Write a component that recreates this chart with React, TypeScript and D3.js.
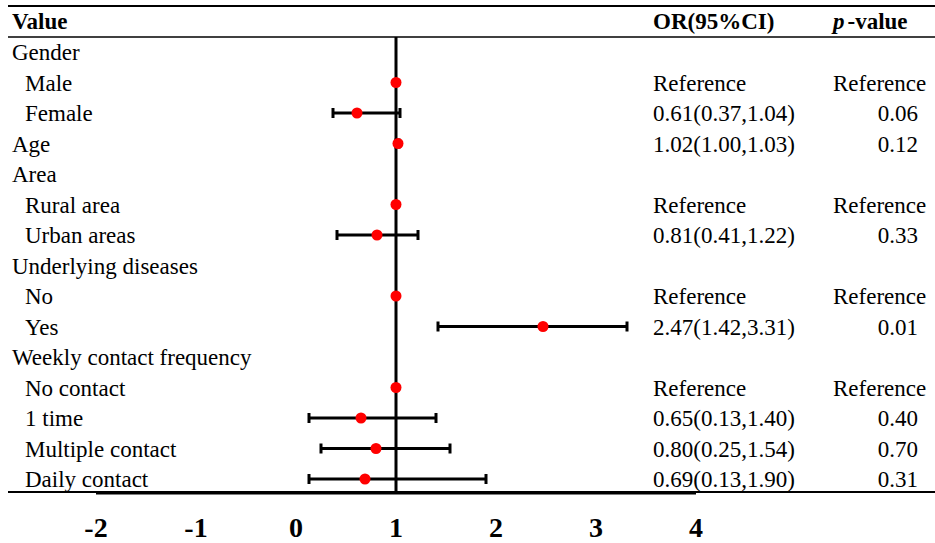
import * as d3 from 'd3';

const labels = [
  'Gender', 'Male', 'Female', 'Age', 'Area', 'Rural area', 'Urban areas',
  'Underlying diseases', 'No', 'Yes', 'Weekly contact frequency',
  'No contact', '1 time', 'Multiple contact', 'Daily contact',
];
const indented = [false, true, true, false, false, true, true, false, true, true, false, true, true, true, true];
const orValues: (number | null)[] = [null, 1, 0.61, 1.02, null, 1, 0.81, null, 1, 2.47, null, 1, 0.65, 0.8, 0.69];
const ciLow: (number | null)[] = [null, null, 0.37, 1.0, null, null, 0.41, null, null, 1.42, null, null, 0.13, 0.25, 0.13];
const ciHigh: (number | null)[] = [null, null, 1.04, 1.03, null, null, 1.22, null, null, 3.31, null, null, 1.4, 1.54, 1.9];
const orText = [
  '', 'Reference', '0.61(0.37,1.04)', '1.02(1.00,1.03)', '', 'Reference', '0.81(0.41,1.22)',
  '', 'Reference', '2.47(1.42,3.31)', '', 'Reference', '0.65(0.13,1.40)', '0.80(0.25,1.54)', '0.69(0.13,1.90)',
];
const pText = ['', 'Reference', '0.06', '0.12', '', 'Reference', '0.33', '', 'Reference', '0.01', '', 'Reference', '0.40', '0.70', '0.31'];
const ticks = [-2, -1, 0, 1, 2, 3, 4];

const FONT = 'Liberation Serif';
const width = 935;
const height = 543;
const topY = 37;
const bottomY = 493;

const x = d3.scaleLinear().domain([-2, 4]).range([96, 696]);
const y = d3.scaleLinear().domain([0, labels.length - 1]).range([52, 479]);

const App = () => {
  return (
    <svg
      width={width}
      height={height}
      style={{ position: 'absolute', left: 0, top: 0, background: '#fff' }}
    >
      {/* table rules */}
      <line x1={8} x2={width} y1={6} y2={6} stroke="#000" strokeWidth={2} />
      <line x1={8} x2={width} y1={topY} y2={topY} stroke="#000" strokeWidth={1.5} />
      <line x1={8} x2={width} y1={bottomY - 1} y2={bottomY - 1} stroke="#000" strokeWidth={2} />

      {/* headers */}
      <text x={12} y={29} fontFamily={FONT} fontSize={23} fontWeight="bold">Value</text>
      <text x={653} y={29} fontFamily={FONT} fontSize={23} fontWeight="bold">OR(95%CI)</text>
      <text x={833} y={29} fontFamily={FONT} fontSize={23} fontWeight="bold">
        <tspan fontStyle="italic">p</tspan>
        <tspan dx={3}>-value</tspan>
      </text>

      {/* row text */}
      {labels.map((label, i) => {
        const yy = y(i) + 8;
        const isRef = pText[i] === 'Reference';
        return (
          <g key={label} fontFamily={FONT} fontSize={23} fill="#000">
            <text x={indented[i] ? 25 : 12} y={yy}>{label}</text>
            {orText[i] && <text x={653} y={yy}>{orText[i]}</text>}
            {pText[i] && (
              <text x={isRef ? 833 : 918} y={yy} textAnchor={isRef ? 'start' : 'end'}>
                {pText[i]}
              </text>
            )}
          </g>
        );
      })}

      {/* x axis */}
      <line x1={x(-2)} x2={x(4)} y1={bottomY} y2={bottomY} stroke="#000" strokeWidth={3} />
      {ticks.map((t) => (
        <text
          key={t}
          x={x(t)}
          y={537}
          textAnchor="middle"
          fontFamily={FONT}
          fontSize={28}
          fontWeight="bold"
        >
          {t}
        </text>
      ))}

      {/* reference line at OR = 1 */}
      <line x1={x(1)} x2={x(1)} y1={topY} y2={bottomY} stroke="#000" strokeWidth={3} />

      {/* confidence intervals */}
      {labels.map((label, i) => {
        const lo = ciLow[i];
        const hi = ciHigh[i];
        if (lo == null || hi == null) return null;
        const yy = y(i);
        return (
          <g key={'ci' + label} stroke="#000" strokeWidth={3}>
            <line x1={x(lo)} x2={x(hi)} y1={yy} y2={yy} />
            <line x1={x(lo)} x2={x(lo)} y1={yy - 5} y2={yy + 5} />
            <line x1={x(hi)} x2={x(hi)} y1={yy - 5} y2={yy + 5} />
          </g>
        );
      })}

      {/* points */}
      {orValues.map((v, i) =>
        v == null ? null : (
          <circle key={'pt' + i} cx={x(v)} cy={y(i)} r={5.5} fill="#ff0000" />
        )
      )}
    </svg>
  );
};

export default App;
